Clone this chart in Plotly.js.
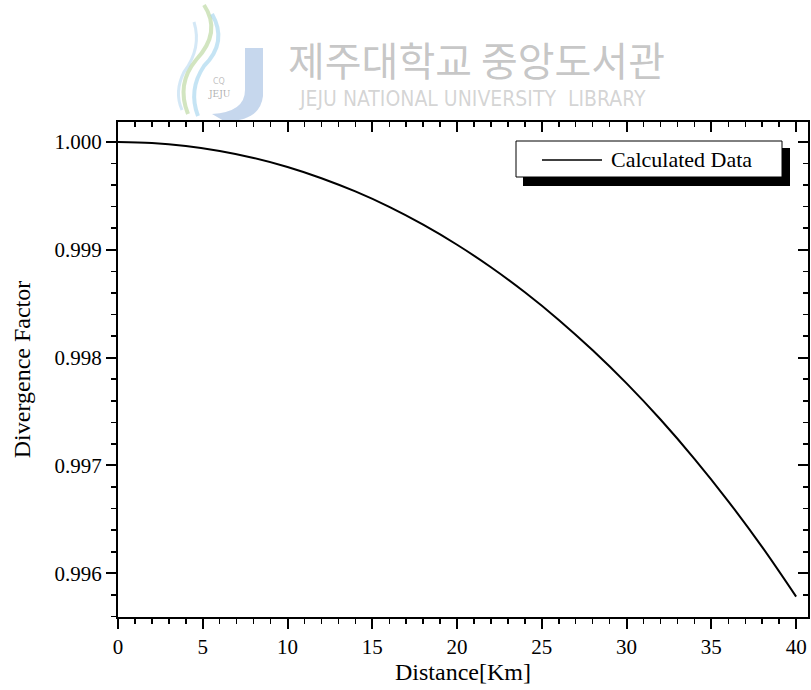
<!DOCTYPE html>
<html><head><meta charset="utf-8">
<script src="https://cdn.plot.ly/plotly-3.0.1.min.js"></script>
<style>html,body{margin:0;padding:0;background:#fff}#c{width:811px;height:690px}</style>
</head><body><div id="c"></div>
<script>
const distanceKm = [0,2,4,6,8,10,12,14,16,18,20,22,24,26,28,30,32,34,36,38,40];
const divergence = [1.000000,0.999991,0.999963,0.999917,0.999852,0.999768,0.999664,0.999541,0.999398,0.999233,0.999047,0.998838,0.998606,0.998350,0.998068,0.997761,0.997426,0.997062,0.996668,0.996243,0.995784];
const xTicks = [0,5,10,15,20,25,30,35,40];
const yTicks = [0.996,0.997,0.998,0.999,1.000];
const seriesName = 'Calculated Data';

const W=811,H=690, L=118,R=808,T=122,B=617;
const px = x => (x-L)/(R-L);
const py = y => (B-y)/(B-T);
const serif = 'Liberation Serif, Times New Roman, serif';
const xr=[0,40.7], yr=[0.995595,1.000185];

const shapes = [
  {type:'rect',xref:'paper',yref:'paper',x0:px(523),x1:px(790),y0:py(186),y1:py(148),fillcolor:'#000',line:{width:0}},
  {type:'rect',xref:'paper',yref:'paper',x0:px(516),x1:px(782),y0:py(177),y1:py(141),fillcolor:'#fff',line:{color:'#000',width:1}},
  {type:'line',xref:'paper',yref:'paper',x0:px(542),x1:px(602),y0:py(160),y1:py(160),line:{color:'#000',width:1.5}},
  // watermark logo: J
  {type:'path',xref:'paper',yref:'paper',layer:'below',
   path:`M ${px(245)} ${py(48)} L ${px(263)} ${py(48)} L ${px(263)} ${py(96)} Q ${px(260)} ${py(122)} ${px(224)} ${py(121)} L ${px(212)} ${py(114)} Q ${px(245)} ${py(112)} ${px(245)} ${py(90)} Z`,
   fillcolor:'rgba(160,188,225,0.6)',line:{width:0}},
  {type:'path',xref:'paper',yref:'paper',layer:'below',
   path:`M ${px(204)} ${py(5)} Q ${px(222)} ${py(32)} ${px(196)} ${py(60)} Q ${px(176)} ${py(84)} ${px(188)} ${py(114)}`,
   line:{color:'rgba(180,212,150,0.6)',width:4}},
  {type:'path',xref:'paper',yref:'paper',layer:'below',
   path:`M ${px(212)} ${py(14)} Q ${px(228)} ${py(42)} ${px(204)} ${py(66)} Q ${px(188)} ${py(90)} ${px(198)} ${py(116)}`,
   line:{color:'rgba(150,205,235,0.55)',width:4}},
  {type:'path',xref:'paper',yref:'paper',layer:'below',
   path:`M ${px(194)} ${py(22)} Q ${px(202)} ${py(48)} ${px(184)} ${py(72)} Q ${px(174)} ${py(92)} ${px(182)} ${py(110)}`,
   line:{color:'rgba(170,210,238,0.5)',width:3}}
];

const annotations = [
  {xref:'paper',yref:'paper',x:px(609),y:py(159),xanchor:'left',yanchor:'middle',showarrow:false,
   text:seriesName,font:{family:serif,size:22,color:'#000'}},
  {xref:'paper',yref:'paper',x:px(477),y:py(59),xanchor:'center',yanchor:'middle',showarrow:false,
   text:'제주대학교 중앙도서관',font:{family:'Noto Sans CJK KR, sans-serif',size:40,color:'rgba(150,150,150,0.55)'}},
  {xref:'paper',yref:'paper',x:px(473),y:py(99),xanchor:'center',yanchor:'middle',showarrow:false,
   text:'JEJU NATIONAL UNIVERSITY  LIBRARY',font:{family:'Liberation Sans Narrow, DejaVu Sans Condensed, sans-serif',size:21,color:'rgba(160,160,160,0.45)'}},
  {xref:'paper',yref:'paper',x:px(219),y:py(82),xanchor:'center',yanchor:'middle',showarrow:false,
   text:'CQ',font:{family:'DejaVu Sans, sans-serif',size:8,color:'rgba(130,130,130,0.5)'}},
  {xref:'paper',yref:'paper',x:px(219),y:py(94),xanchor:'center',yanchor:'middle',showarrow:false,
   text:'JEJU',font:{family:'DejaVu Serif, serif',size:9,color:'rgba(120,120,120,0.6)'}}
];

const axFont = {family:serif,size:21,color:'#000'};
const layout = {
  width:W,height:H,margin:{l:L,r:W-R,t:T,b:H-B,pad:0},
  paper_bgcolor:'#fff',plot_bgcolor:'#fff',showlegend:false,
  xaxis:{range:xr,tickvals:xTicks,ticktext:xTicks.map(String),ticks:'outside',ticklen:10,tickwidth:2,tickcolor:'#000',
    showline:true,linecolor:'#000',linewidth:2,showgrid:false,zeroline:false,tickfont:axFont,
    minor:{dtick:1,tick0:0,ticks:'outside',ticklen:5,tickwidth:1.5,tickcolor:'#000',showgrid:false},
    title:{text:'Distance[Km]',font:{family:serif,size:24,color:'#000'},standoff:3}},
  yaxis:{range:yr,tickvals:yTicks,ticktext:yTicks.map(v=>v.toFixed(3)),ticks:'outside',ticklen:10,tickwidth:2,tickcolor:'#000',
    showline:true,linecolor:'#000',linewidth:2,showgrid:false,zeroline:false,tickfont:axFont,
    minor:{dtick:0.0002,tick0:0.996,ticks:'outside',ticklen:5,tickwidth:1.5,tickcolor:'#000',showgrid:false},
    title:{text:'Divergence Factor',font:{family:serif,size:24,color:'#000'},standoff:17}},
  xaxis2:{overlaying:'x',side:'top',range:xr,tickvals:xTicks,showticklabels:false,ticks:'inside',ticklen:10,tickwidth:2,tickcolor:'#000',
    showline:true,linecolor:'#000',linewidth:2,showgrid:false,zeroline:false,
    minor:{dtick:1,tick0:0,ticks:'inside',ticklen:5,tickwidth:1.5,tickcolor:'#000',showgrid:false}},
  yaxis2:{overlaying:'y',side:'right',range:yr,tickvals:yTicks,showticklabels:false,ticks:'inside',ticklen:10,tickwidth:2,tickcolor:'#000',
    showline:true,linecolor:'#000',linewidth:2,showgrid:false,zeroline:false,
    minor:{dtick:0.0002,tick0:0.996,ticks:'inside',ticklen:5,tickwidth:1.5,tickcolor:'#000',showgrid:false}},
  shapes:shapes,annotations:annotations
};

const data = [
  {x:distanceKm,y:divergence,type:'scatter',mode:'lines',line:{color:'#000',width:2,shape:'spline'},name:seriesName,hoverinfo:'skip'},
  {x:[distanceKm[0]],y:[divergence[0]],xaxis:'x2',yaxis:'y2',type:'scatter',mode:'markers',marker:{opacity:0},hoverinfo:'skip',showlegend:false}
];
Plotly.newPlot('c',data,layout,{staticPlot:true});
</script></body></html>
